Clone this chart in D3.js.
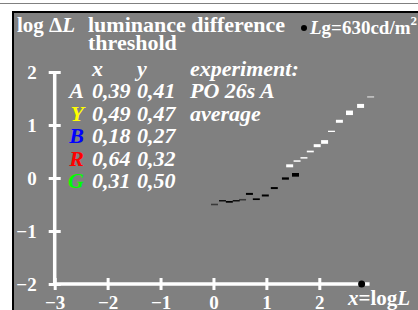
<!DOCTYPE html>
<html>
<head>
<meta charset="utf-8">
<script src="https://cdn.jsdelivr.net/npm/d3@7"></script>
<style>
  html, body { margin: 0; background: #fff; overflow: hidden; }
  svg { display: block; }
  text { font-family: 'Liberation Serif', 'Times New Roman', serif; font-weight: bold; fill: #fff; }
</style>
</head>
<body>
<div id="chart"></div>
<script>
// axis ticks
const xTicks = [-3, -2, -1, 0, 1, 2];
const yTicks = [-2, -1, 0, 1, 2];

// lower part of the threshold curve (dark dashes)
const darkX = [0.02, 0.17, 0.30, 0.43, 0.55, 0.68, 0.81, 0.98, 1.15, 1.36, 1.55];
const darkY = [-0.50, -0.43, -0.45, -0.43, -0.41, -0.30, -0.40, -0.33, -0.19, -0.01, 0.06];
const darkWeight = [0.5, 1.3, 1.7, 1.3, 0.5, 2, 1.7, 2, 2, 2.3, 3.7];

// upper part (light dashes)
const lightX = [1.44, 1.58, 1.71, 1.83, 1.96, 2.10, 2.23, 2.38, 2.57, 2.78, 2.97];
const lightY = [0.23, 0.32, 0.38, 0.50, 0.61, 0.68, 0.88, 1.07, 1.23, 1.36, 1.53];
const lightWeight = [3, 1.5, 1.5, 1.7, 3, 3.7, 1.3, 3, 4.5, 4, 0.5];

// legend table
const legendKeys = ['A', 'Y', 'B', 'R', 'G'];
const legendX = ['0,39', '0,49', '0,18', '0,64', '0,31'];
const legendY = ['0,41', '0,47', '0,27', '0,32', '0,50'];
const legendNotes = ['PO 26s A', 'average'];

const keyColor = { A: '#fff', Y: '#ffff00', B: '#0000ff', R: '#ff0000', G: '#00ff00' };

const W = 418, H = 310;

const svg = d3.select('#chart').append('svg')
  .attr('width', W)
  .attr('height', H);

// frame
svg.append('rect')
  .attr('x', 0).attr('y', 3).attr('width', W).attr('height', 1)
  .attr('fill', '#808080');
svg.append('rect')
  .attr('x', 12).attr('y', 11).attr('width', W - 12).attr('height', H - 11)
  .attr('fill', '#000');
svg.append('rect')
  .attr('x', 14).attr('y', 13).attr('width', W - 14).attr('height', H - 13)
  .attr('fill', '#808080');

const x = d3.scaleLinear().domain([-3, 2]).range([54.7, 319.3]);
const y = d3.scaleLinear().domain([-2, 2]).range([284, 72]);
const fmt = d3.format('d');

// y axis
const yAxis = svg.append('g')
  .attr('transform', `translate(${x(-3)},0)`)
  .call(d3.axisLeft(y).tickValues(yTicks).tickFormat(fmt).tickSize(6).tickPadding(12));
yAxis.select('.domain').remove();
yAxis.selectAll('.tick line')
  .attr('x1', -6).attr('x2', 6)
  .attr('stroke', '#fff').attr('stroke-width', 3);
yAxis.selectAll('.tick text')
  .attr('fill', '#fff').attr('font-size', 19).attr('font-family', null)
  .attr('dy', '0.35em');
svg.append('line')
  .attr('x1', x(-3)).attr('x2', x(-3))
  .attr('y1', y(2) - 1).attr('y2', y(-2) + 1.5)
  .attr('stroke', '#fff').attr('stroke-width', 3.5);

// x axis
const xAxis = svg.append('g')
  .attr('transform', `translate(0,${y(-2)})`)
  .call(d3.axisBottom(x).tickValues(xTicks).tickFormat(fmt).tickSize(6));
xAxis.select('.domain').remove();
xAxis.selectAll('.tick line')
  .attr('y1', -6).attr('y2', 6)
  .attr('stroke', '#fff').attr('stroke-width', 3);
xAxis.selectAll('.tick text')
  .attr('fill', '#fff').attr('font-size', 19).attr('font-family', null)
  .attr('y', 25).attr('dy', 0);
svg.append('line')
  .attr('x1', x(-3) - 1.5).attr('x2', x(2.95))
  .attr('y1', y(-2)).attr('y2', y(-2))
  .attr('stroke', '#fff').attr('stroke-width', 3.5);

svg.append('circle')
  .attr('cx', x(2.8)).attr('cy', y(-2)).attr('r', 3.5)
  .attr('fill', '#000');

const xl = svg.append('text').attr('x', 348).attr('y', 305).attr('font-size', 21);
xl.append('tspan').attr('font-style', 'italic').text('x');
xl.append('tspan').text('=log');
xl.append('tspan').attr('font-style', 'italic').text('L');

// dashes
const half = 0.066;
function dashes(xs, ys, ws, color) {
  svg.append('g').selectAll('line')
    .data(xs.map((d, i) => ({ x: d, y: ys[i], w: ws[i] })))
    .enter().append('line')
    .attr('x1', (d) => x(d.x - half))
    .attr('x2', (d) => x(d.x + half))
    .attr('y1', (d) => y(d.y))
    .attr('y2', (d) => y(d.y))
    .attr('stroke', color)
    .attr('stroke-width', (d) => (d.w < 1 ? 1.6 : d.w))
    .attr('stroke-opacity', (d) => (d.w < 1 ? 0.55 : 1));
}
dashes(darkX, darkY, darkWeight, '#000');
dashes(lightX, lightY, lightWeight, '#fff');

// titles
const t1 = svg.append('text').attr('x', 17).attr('y', 32).attr('font-size', 21);
t1.append('tspan').text('log Δ');
t1.append('tspan').attr('font-style', 'italic').text('L');
svg.append('text').attr('x', 88).attr('y', 32).attr('font-size', 22).text('luminance difference');
svg.append('text').attr('x', 88).attr('y', 50).attr('font-size', 22).text('threshold');

svg.append('circle').attr('cx', 304).attr('cy', 28).attr('r', 3).attr('fill', '#000');
const lg = svg.append('text').attr('x', 310).attr('y', 34).attr('font-size', 19);
lg.append('tspan').attr('font-style', 'italic').text('L');
lg.append('tspan').text('g=630cd/m');
lg.append('tspan').attr('font-size', 13).attr('dy', -9).text('2');

// legend
const leg = svg.append('g').attr('font-style', 'italic').attr('font-size', 22);
leg.append('text').attr('x', 92).attr('y', 76).text('x');
leg.append('text').attr('x', 137).attr('y', 76).text('y');
leg.append('text').attr('x', 190).attr('y', 76).text('experiment:');
legendKeys.forEach((k, i) => {
  const by = 98 + i * 22.6;
  leg.append('text').attr('x', 84).attr('y', by).attr('text-anchor', 'end')
    .style('fill', keyColor[k]).text(k);
  leg.append('text').attr('x', 92).attr('y', by).text(legendX[i]);
  leg.append('text').attr('x', 137).attr('y', by).text(legendY[i]);
  if (legendNotes[i]) leg.append('text').attr('x', 190).attr('y', by).text(legendNotes[i]);
});
</script>
</body>
</html>
